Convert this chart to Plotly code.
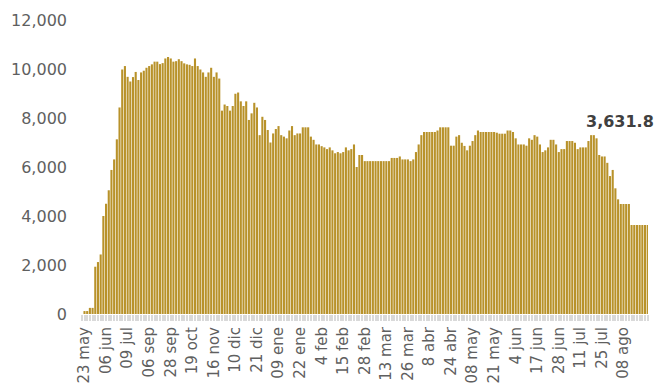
import plotly.graph_objects as go

# Bar values in chronological order (one per observation date)
values = [
    120, 120, 250, 250,
    1930, 2120, 2430, 4000, 4500, 5050, 5880, 6310, 7130, 8430,
    9980, 10120, 9680, 9490, 9670, 9880, 9550, 9860, 9930, 10050,
    10120, 10190, 10300, 10300, 10200, 10240, 10430, 10490, 10430, 10300,
    10320, 10400, 10320, 10230, 10190, 10170, 10120, 10430, 10120, 9980,
    9860, 9680, 9860, 10050, 9680, 9860, 9610,
    8300, 8550, 8490, 8300, 8490, 8990, 9040, 8680, 8490, 8680,
    7920, 8190, 8620, 8430, 7300, 8050, 7920, 7510, 7000, 7370,
    7550, 7670, 7300, 7240, 7170, 7490, 7670, 7300, 7370, 7370,
    7620, 7620, 7620, 7240, 7110, 6920, 6920, 6850, 6800, 6730,
    6800, 6680, 6560, 6610, 6560, 6610, 6800, 6680, 6730, 6920,
    6000, 6490, 6490, 6240,
    6240, 6240, 6240, 6240, 6240, 6240, 6240, 6240, 6240,
    6370, 6370, 6370, 6430, 6310, 6310, 6310, 6240, 6310, 6610,
    6920, 7300, 7430, 7430, 7430, 7430, 7430, 7490, 7620, 7620,
    7620, 7620, 6870, 6870, 7240, 7300, 6990, 6860, 6680, 6870,
    7060, 7300, 7490, 7430, 7430, 7430, 7430, 7430, 7430, 7400,
    7360, 7360, 7360, 7490,
    7490, 7430, 7170, 6920, 6920, 6920, 6870, 7170, 7110, 7300,
    7240, 6920, 6610, 6680, 6800, 7110, 7110, 6920, 6610, 6730,
    6730, 7060, 7060, 7060, 6990, 6730, 6800, 6800, 6800, 7060,
    7300, 7300, 7170, 6490, 6430, 6430, 6170, 5630, 5880, 5130,
    4680, 4490, 4490, 4490, 4490,
    3631.8, 3631.8, 3631.8, 3631.8, 3631.8, 3631.8, 3631.8,
]

# Tick labels shown every 8th observation
tick_labels = [
    "23 may", "06 jun", "09 jul", "06 sep", "28 sep", "19 oct", "16 nov",
    "10 dic", "21 dic", "09 ene", "22 ene", "4 feb", "15 feb", "28 feb",
    "13 mar", "26 mar", "8 abr", "24 abr", "08 may", "21 may", "4 jun",
    "17 jun", "28 jun", "11 jul", "25 jul", "08 ago",
]
label_step = 8

x = list(range(len(values)))
tick_positions = [i * label_step for i in range(len(tick_labels))]

bar_color = "#B8922A"
font_family = "DejaVu Sans"
grey = "#5f5f5f"

fig = go.Figure()
fig.add_trace(go.Bar(x=x, y=values, marker=dict(color=bar_color, line=dict(width=0)),
                     hoverinfo="skip"))

last_idx = x[-1]
last_val = values[-1]
fig.add_annotation(
    x=last_idx, y=last_val, xref="x", yref="y",
    text="<b>{:,.1f}</b>".format(last_val),
    showarrow=False, xanchor="right", yanchor="middle",
    xshift=8, yshift=104,
    font=dict(family=font_family, size=16, color="#404040"),
)

fig.update_layout(
    width=657, height=387,
    margin=dict(l=80, r=9, t=20, b=73, autoexpand=False),
    paper_bgcolor="white", plot_bgcolor="white",
    bargap=0.22, showlegend=False,
    font=dict(family=font_family, color=grey),
)
fig.update_xaxes(
    range=[-1.67, 209.1], automargin=False,
    tickmode="array", tickvals=tick_positions, ticktext=tick_labels,
    tickangle=-90, tickfont=dict(family=font_family, size=15, color=grey),
    ticks="outside", ticklen=6, tickwidth=1.5, tickcolor="#d9d9d9",
    minor=dict(dtick=1, tick0=0, ticks="outside", ticklen=6, tickwidth=1.5,
               tickcolor="#d9d9d9", showgrid=False),
    showgrid=False, zeroline=False, showline=False,
)
fig.update_yaxes(
    range=[0, 12000], tickmode="linear", tick0=0, dtick=2000, automargin=False,
    tickformat=",d", tickfont=dict(family=font_family, size=16, color=grey),
    showgrid=False, zeroline=False, showline=False,
    ticks="", ticklabelstandoff=12,
)

fig.write_html("out.html")
